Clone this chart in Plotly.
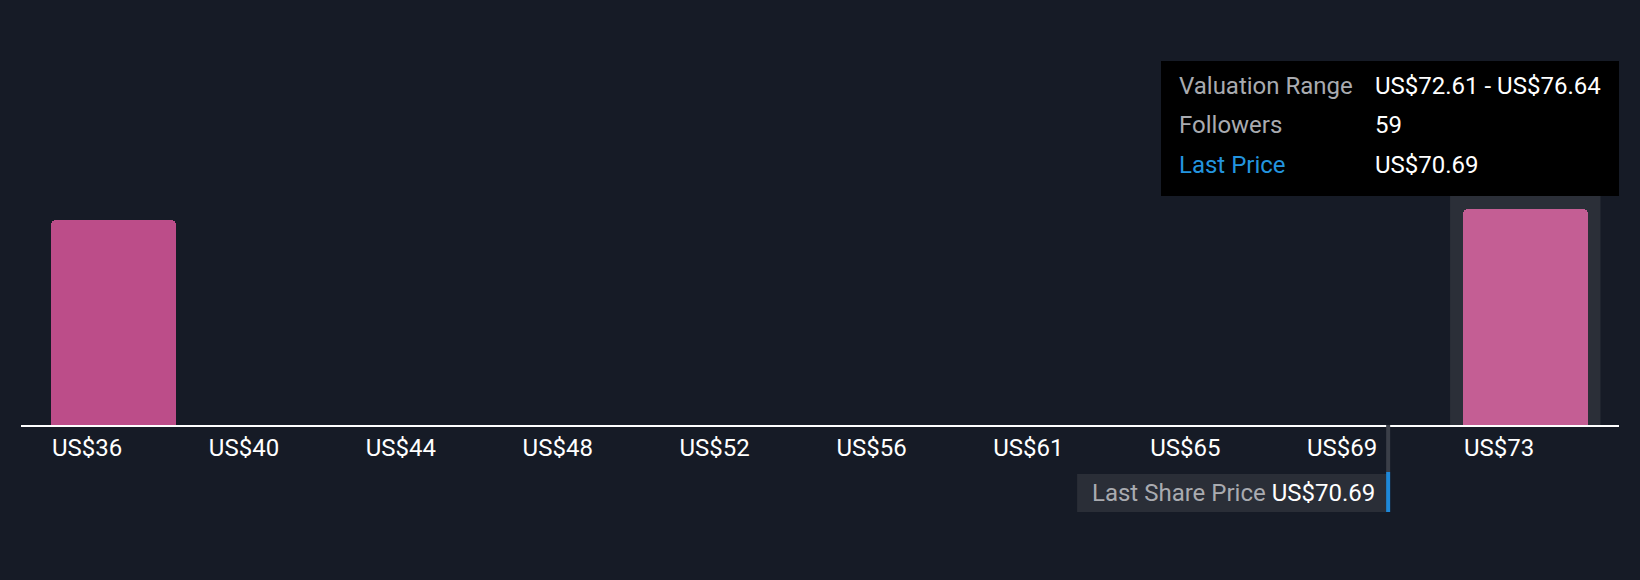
import plotly.graph_objects as go

# Valuation distribution data
bin_starts = [36.34, 40.37, 44.40, 48.43, 52.46, 56.49, 60.52, 64.55, 68.58, 72.61]
bin_width = 4.03
tick_labels = ["US$36", "US$40", "US$44", "US$48", "US$52",
               "US$56", "US$61", "US$65", "US$69", "US$73"]
followers = [56, 0, 0, 0, 0, 0, 0, 0, 0, 59]
bar_colors = ["#bc4d89"] * 9 + ["#c45e94"]

last_price = 70.69
hover_range = "US$72.61 - US$76.64"
hover_followers = "59"
hover_price = "US$70.69"

BG = "#161b26"
FONT = "Roboto"
TXT = 24

fig = go.Figure()

fig.add_trace(go.Bar(
    x=bin_starts,
    y=followers,
    width=bin_width * 0.8,
    offset=0,
    marker=dict(color=bar_colors, cornerradius=5, line=dict(width=0)),
    hoverinfo="skip",
))

# highlight band behind the hovered bin
fig.add_shape(type="rect", xref="x", yref="paper",
              x0=bin_starts[-1] - 0.33, x1=bin_starts[-1] + bin_width * 0.8 + 0.31,
              y0=0, y1=0.6, fillcolor="#2b2f38", line=dict(width=0), layer="below")

# last price marker below axis
fig.add_shape(type="rect", xref="x", yref="paper",
              x0=62.70, x1=last_price, y0=-0.2175, y1=-0.1225,
              fillcolor="#2a2e37", line=dict(width=0))
fig.add_shape(type="line", xref="x", yref="paper",
              x0=last_price, x1=last_price, y0=0, y1=-0.1175,
              line=dict(color="#3b3f48", width=4))
fig.add_shape(type="line", xref="x", yref="paper",
              x0=last_price, x1=last_price, y0=-0.1175, y1=-0.2175,
              line=dict(color="#1e88d8", width=4))
fig.add_annotation(x=last_price, y=-0.17, xref="x", yref="paper",
                   xanchor="right", yanchor="middle", xshift=-11, showarrow=False,
                   text='<span style="color:#a9abb0">Last Share Price</span> US$70.69',
                   font=dict(family=FONT, size=TXT, color="#ffffff"))

# tooltip box
fig.add_shape(type="rect", xref="paper", yref="paper",
              x0=0.7134, x1=1.0, y0=0.5725, y1=0.91,
              fillcolor="#000000", line=dict(width=0))
rows = [
    ("Valuation Range", hover_range, "#a9abb0", 0.8475),
    ("Followers", hover_followers, "#a9abb0", 0.75),
    ("Last Price", hover_price, "#2394df", 0.65),
]
for label, value, color, ypos in rows:
    fig.add_annotation(x=0.7235, y=ypos, xref="paper", yref="paper",
                       xanchor="left", yanchor="middle", showarrow=False,
                       text=label, font=dict(family=FONT, size=TXT, color=color))
    fig.add_annotation(x=0.8462, y=ypos, xref="paper", yref="paper",
                       xanchor="left", yanchor="middle", showarrow=False,
                       text=value, font=dict(family=FONT, size=TXT, color="#ffffff"))

fig.update_layout(
    width=1640, height=580,
    paper_bgcolor=BG, plot_bgcolor=BG,
    margin=dict(l=21, r=21, t=25, b=155),
    showlegend=False,
    bargap=0,
    font=dict(family=FONT, color="#ffffff"),
    xaxis=dict(
        range=[35.57, 76.62],
        tickvals=bin_starts,
        ticktext=tick_labels,
        ticklabelposition="outside right",
        tickfont=dict(family=FONT, size=TXT, color="#ffffff"),
        showgrid=False, zeroline=False,
        showline=True, linecolor="#ffffff", linewidth=2,
        ticks="",
    ),
    yaxis=dict(range=[0, 109.3], visible=False, showgrid=False, zeroline=False),
)

# drop the default page margin so the figure sits at the window edge
fig.write_html("out.html", config={"displayModeBar": False},
               post_script="document.body.style.margin='0';")
